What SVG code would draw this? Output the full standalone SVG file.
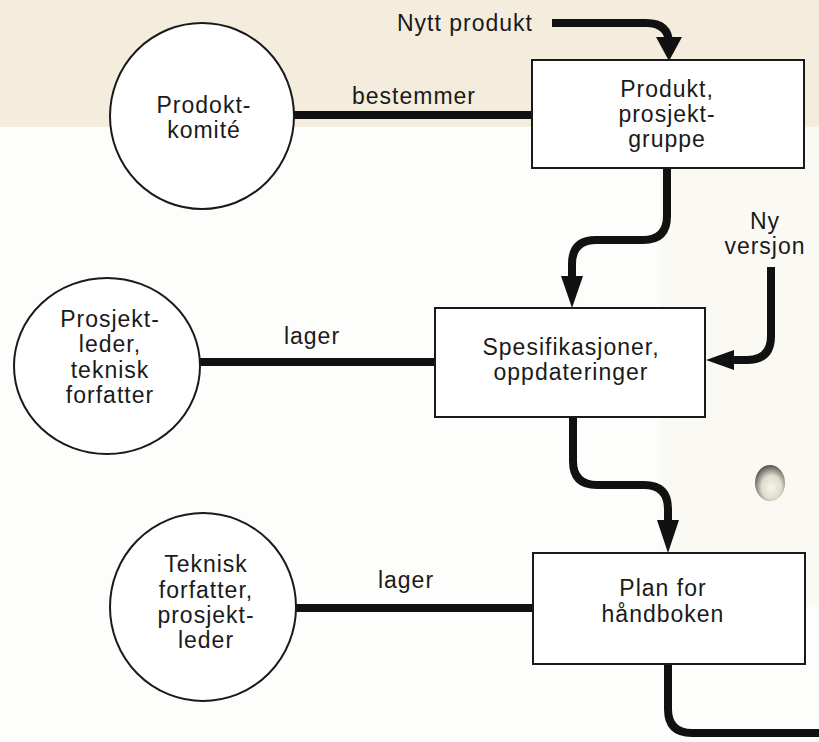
<svg xmlns="http://www.w3.org/2000/svg" width="819" height="742" viewBox="0 0 819 742">
<defs>
<style>
.t{font-family:"Liberation Sans",Arial,sans-serif;font-size:23px;letter-spacing:1px;fill:#1a1a1a;text-anchor:middle}
.node{fill:#fff;stroke:#1a1a1a;stroke-width:2}
.line{fill:none;stroke:#111;stroke-width:8}
.flow{fill:none;stroke:#111;stroke-width:8;stroke-linejoin:round}
.head{fill:#111}
</style>
<radialGradient id="hole" cx="0.55" cy="0.62" r="0.6">
<stop offset="0" stop-color="#f6f4e8"/>
<stop offset="0.55" stop-color="#d9d5c0"/>
<stop offset="1" stop-color="#333"/>
</radialGradient>
</defs>
<rect x="0" y="0" width="819" height="742" fill="#fdfdfb"/>
<rect x="0" y="0" width="819" height="127" fill="#f4eddd"/>
<rect x="660" y="127" width="159" height="480" fill="#faf9f4"/>
<ellipse cx="770" cy="483" rx="15" ry="18" fill="url(#hole)" opacity="0.8"/>

<g id="connectors">
  <line class="line" x1="294" y1="115" x2="532" y2="115"/>
  <line class="line" x1="200" y1="362" x2="435" y2="362"/>
  <line class="line" x1="296" y1="608" x2="533" y2="608"/>
  <path class="flow" d="M552 23 H646 Q669 23 669 44"/>
  <polygon class="head" points="656,37 682,37 669,61"/>
  <path class="flow" d="M667 168 V216 Q667 240 643 240 H596 Q572 240 572 264 V282"/>
  <polygon class="head" points="561,276 583,276 572,308"/>
  <path class="flow" d="M771 267 V336 Q771 360 747 360 H728"/>
  <polygon class="head" points="734,350 734,370 706,360"/>
  <path class="flow" d="M573 417 V461 Q573 485 597 485 H644 Q668 485 668 509 V527"/>
  <polygon class="head" points="657,520 679,520 668,553"/>
  <path class="flow" d="M668 664 V709 Q668 733 692 733 H819"/>
</g>

<g id="label-nytt"><text class="t" x="465" y="31">Nytt  produkt</text></g>
<g id="label-bestemmer"><text class="t" x="414" y="104">bestemmer</text></g>
<g id="label-nyversjon"><text class="t" x="765" y="229">Ny</text><text class="t" x="765" y="254">versjon</text></g>
<g id="label-lager1"><text class="t" x="312" y="344">lager</text></g>
<g id="label-lager2"><text class="t" x="406" y="588">lager</text></g>

<g id="prodoktkomite">
  <ellipse class="node" cx="202" cy="116" rx="92" ry="93"/>
  <text class="t" x="204" y="113">Prodokt-</text>
  <text class="t" x="204" y="138">komité</text>
</g>
<g id="produkt-prosjektgruppe">
  <rect class="node" x="532" y="60" width="272" height="108"/>
  <text class="t" x="667" y="97">Produkt,</text>
  <text class="t" x="667" y="122">prosjekt-</text>
  <text class="t" x="667" y="147">gruppe</text>
</g>
<g id="prosjektleder">
  <ellipse class="node" cx="107" cy="366" rx="93" ry="88"/>
  <text class="t" x="110" y="327">Prosjekt-</text>
  <text class="t" x="110" y="352">leder,</text>
  <text class="t" x="110" y="378">teknisk</text>
  <text class="t" x="110" y="403">forfatter</text>
</g>
<g id="spesifikasjoner">
  <rect class="node" x="435" y="308" width="270" height="109"/>
  <text class="t" x="571" y="355">Spesifikasjoner,</text>
  <text class="t" x="571" y="380">oppdateringer</text>
</g>
<g id="tekniskforfatter">
  <ellipse class="node" cx="203" cy="607" rx="93" ry="94"/>
  <text class="t" x="206" y="572">Teknisk</text>
  <text class="t" x="206" y="598">forfatter,</text>
  <text class="t" x="206" y="623">prosjekt-</text>
  <text class="t" x="206" y="648">leder</text>
</g>
<g id="plan">
  <rect class="node" x="533" y="553" width="272" height="111"/>
  <text class="t" x="663" y="596">Plan for</text>
  <text class="t" x="663" y="622">håndboken</text>
</g>
</svg>
